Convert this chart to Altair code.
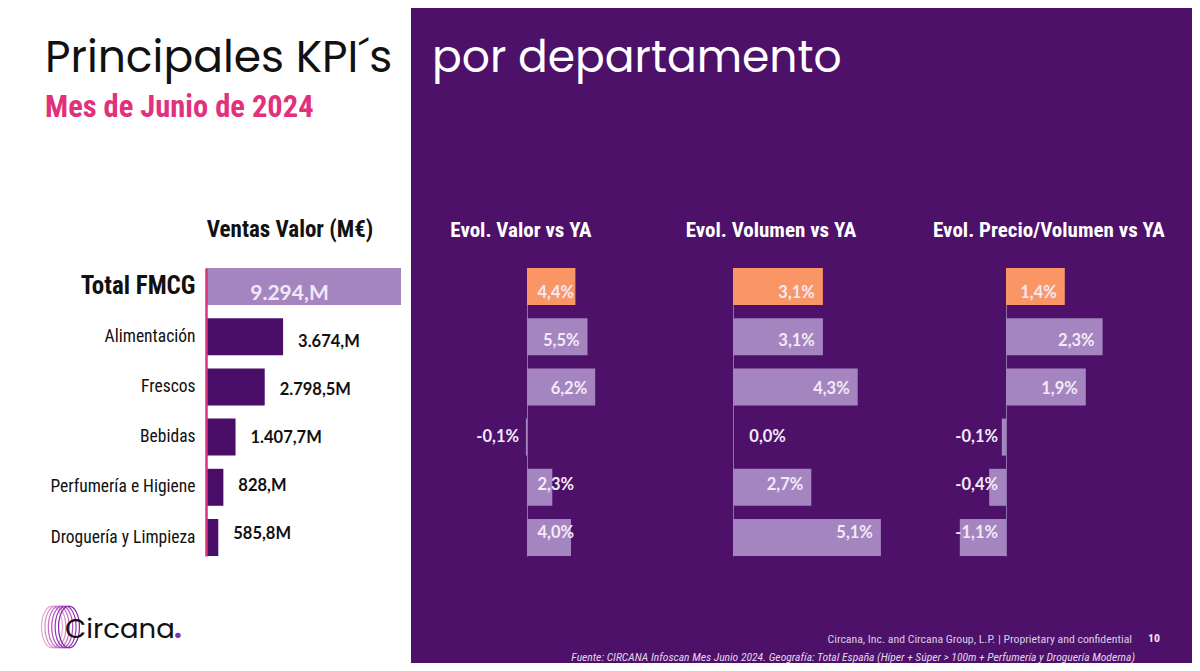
import altair as alt
import pandas as pd

# ---------------- data ----------------
categories = ["Total FMCG", "Alimentación", "Frescos", "Bebidas",
              "Perfumería e Higiene", "Droguería y Limpieza"]
ventas = [9294, 3674, 2798.5, 1407.7, 828, 585.8]
evol_valor = [4.4, 5.5, 6.2, -0.1, 2.3, 4.0]
evol_volumen = [3.1, 3.1, 4.3, 0.0, 2.7, 5.1]
evol_precio = [1.4, 2.3, 1.9, -0.1, -0.4, -1.1]

title_left = "Principales KPI´s"
title_right = "por departamento"
subtitle = "Mes de Junio de 2024"
headers = ["Ventas Valor (M€)", "Evol. Valor vs YA", "Evol. Volumen vs YA",
           "Evol. Precio/Volumen vs YA"]
footer_company = "Circana, Inc. and Circana Group, L.P. |  Proprietary and confidential"
page_number = "10"
source_note = ("Fuente: CIRCANA Infoscan Mes Junio 2024. Geografía: Total España "
               "(Híper + Súper > 100m + Perfumería y Droguería Moderna)")
brand = "Circana"

# ---------------- styles ----------------
PURPLE = "#4D1169"
DARKBAR = "#4B0E68"
LAV = "#A585BF"
ORANGE = "#FA9665"
PINK = "#DA327B"
COND = "Roboto Condensed, Liberation Sans Narrow, Roboto"
NUM = "Lato, Open Sans"
GEO = "Poppins, Lato"


def fmt_m(v):
    s = f"{v:,.1f}".replace(",", "X").replace(".", ",").replace("X", ".")
    if s.endswith(",0"):
        s = s[:-1]
    return s + "M"


def fmt_pct(v):
    return f"{v:.1f}".replace(".", ",") + "%"


df = pd.DataFrame({
    "cat": categories,
    "ventas": ventas,
    "valor": evol_valor,
    "volumen": evol_volumen,
    "precio": evol_precio,
})
df["is_total"] = df["cat"] == categories[0]
df["ventas_lbl"] = [fmt_m(v) for v in ventas]
for f in ["valor", "volumen", "precio"]:
    df[f + "_lbl"] = [fmt_pct(v) for v in df[f]]

one = pd.DataFrame({"k": [0]})

W, H = 1184, 655


def yenc(axis):
    return alt.Y("cat:N", sort=categories,
                 scale=alt.Scale(domain=categories, range=[260, 548],
                                 paddingInner=0.263, paddingOuter=0),
                 axis=axis)


layers = []

# white left panel background
layers.append(alt.Chart(one).mark_rect(color="white").encode(
    x=alt.value(0), x2=alt.value(403), y=alt.value(0), y2=alt.value(H)))

# ---- left panel: Ventas Valor ----
xs0 = alt.Scale(domain=[0, 9294], range=[198, 393], nice=False)
left_axis = alt.Axis(title=None, orient="left", offset=-198, ticks=False,
                     domainColor=PINK, domainWidth=2.5, grid=False,
                     labelPadding=11, labelFont=COND, labelColor="#111111",
                     labelFontSize=alt.expr("datum.value == 'Total FMCG' ? 25 : 17.5"),
                     labelFontWeight=alt.expr("datum.value == 'Total FMCG' ? 'bold' : 'normal'"),
                     labelLimit=300, zindex=1)
base = alt.Chart(df)
layers.append(base.mark_bar().encode(
    x=alt.X("ventas:Q", scale=xs0, axis=None),
    y=yenc(left_axis),
    color=alt.condition("datum.is_total", alt.value(LAV), alt.value(DARKBAR))))
layers.append(base.transform_filter("datum.is_total").transform_calculate(
    mid="datum.ventas / 2").mark_text(
    align="center", baseline="middle", dx=-14, dy=2, font=NUM, fontWeight="bold",
    fontSize=21, color="#F1E8F7").encode(
    x=alt.X("mid:Q", scale=xs0, axis=None), y=yenc(None), text="ventas_lbl:N"))
layers.append(base.transform_filter("!datum.is_total").mark_text(
    align="left", baseline="middle", dx=15, dy=2, font=NUM, fontWeight="bold",
    fontSize=16.5, color="#111111").encode(
    x=alt.X("ventas:Q", scale=xs0, axis=None), y=yenc(None), text="ventas_lbl:N"))

# ---- right panels ----
panels = [
    ("valor", alt.Scale(domain=[-1, 7], range=[508, 596], nice=False), 5.0, 519),
    ("volumen", alt.Scale(domain=[-1, 6], range=[696, 899], nice=False), 2.1, 725),
    ("precio", alt.Scale(domain=[-1.5, 3], range=[935, 1124], nice=False), 0.0, 998),
]
for field, xs, thr, zero_px in panels:
    ax = alt.Axis(title=None, orient="left", offset=-zero_px, ticks=False,
                  labels=False, domainColor="#8F70AE", domainWidth=1, grid=False)
    layers.append(base.mark_bar().encode(
        x=alt.X(f"{field}:Q", scale=xs, axis=None),
        y=yenc(ax),
        color=alt.condition("datum.is_total", alt.value(ORANGE), alt.value(LAV))))
    layers.append(base.transform_calculate(
        anchor=f"datum.{field} < 0 ? 0 : max(datum.{field}, {thr})").mark_text(
        align="right", baseline="middle", dx=-8, dy=1, font=NUM, fontWeight="bold",
        fontSize=16.5, color="#F3EAF8").encode(
        x=alt.X("anchor:Q", scale=xs, axis=None), y=yenc(None),
        text=f"{field}_lbl:N"))


# ---- texts ----
def txt(text, x, y, **kw):
    return alt.Chart(one).mark_text(**kw).encode(
        x=alt.value(x), y=alt.value(y), text=alt.value(text))


layers.append(txt(title_left, 37, 64, align="left", baseline="alphabetic",
                  font=GEO, fontSize=44, color="#111111"))
layers.append(txt(title_right, 424, 64, align="left", baseline="alphabetic",
                  font=GEO, fontSize=44, color="#FFFFFF"))
layers.append(txt(subtitle, 37, 109, align="left", baseline="alphabetic",
                  font=COND, fontSize=30.5, fontWeight="bold", color="#E2307C"))

hdr_pos = [(282, "#111111", 23), (513, "#FFFFFF", 21), (763, "#FFFFFF", 21),
           (1041, "#FFFFFF", 21)]
for h, (hx, hc, hs) in zip(headers, hdr_pos):
    layers.append(txt(h, hx, 229, align="center", baseline="alphabetic",
                      font=COND, fontSize=hs, fontWeight="bold", color=hc))

layers.append(txt(footer_company, 1124, 631, align="right", baseline="middle",
                  font=COND, fontSize=11.8, color="#D9CDE3"))
layers.append(txt(page_number, 1146, 630, align="center", baseline="middle",
                  font=COND, fontSize=11.8, fontWeight="bold", color="#EEE4F4"))
layers.append(txt(source_note, 1127, 650, align="right", baseline="middle",
                  font=COND, fontSize=11.6, fontStyle="italic", color="#E2D7EC"))

# ---- logo ----
ring_colors = ["#E7A6D8", "#D98BD0", "#C56CC6", "#B050BC", "#9637AE", "#7E27A0"]
ellipse = "M 0 -1 A 0.5 1 0 1 0 0 1 A 0.5 1 0 1 0 0 -1 Z"
for i, rc in enumerate(ring_colors):
    layers.append(alt.Chart(one).mark_point(
        shape=ellipse, filled=False, size=1750, strokeWidth=1.2, color=rc,
        opacity=1).encode(x=alt.value(44 + 3.4 * i), y=alt.value(619)))
layers.append(txt(brand, 57, 630, align="left", baseline="alphabetic",
                  font=GEO, fontSize=27.5, color="#111111"))
layers.append(txt(".", 166, 630, align="left", baseline="alphabetic",
                  font=GEO, fontSize=27.5, fontWeight="bold", color="#8A2BA6"))

chart = alt.layer(*layers).resolve_scale(
    x="independent", y="independent").resolve_axis(
    x="independent", y="independent").properties(
    width=W, height=H, padding=0,
    autosize=alt.AutoSizeParams(type="none"),
    background=PURPLE).configure_view(stroke=None)

chart.save("out.html", embed_options={"renderer": "svg", "actions": False})
